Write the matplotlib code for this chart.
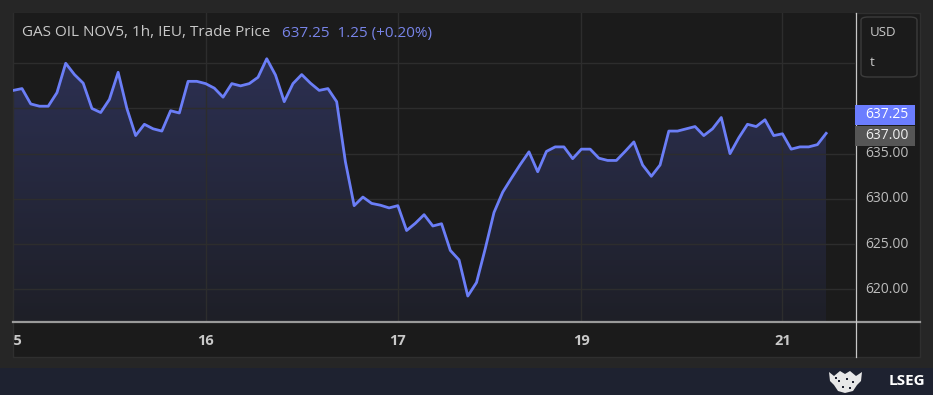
import numpy as np
import matplotlib.pyplot as plt
from matplotlib.patches import Rectangle, FancyBboxPatch, Polygon
from matplotlib.transforms import Bbox
from matplotlib.colors import LinearSegmentedColormap

# Dados (preço horário, gas oil NOV5)
prices = [642.0, 642.2, 640.5, 640.25, 640.25, 641.75, 645.0, 643.75, 642.8, 640.0,
          639.55, 641.0, 644.0, 640.0, 637.0, 638.25, 637.75, 637.5, 639.75, 639.5,
          643.0, 643.0, 642.75, 642.25, 641.25, 642.75, 642.5, 642.75, 643.45, 645.5,
          643.7, 640.75, 642.75, 643.75, 642.8, 642.0, 642.2, 640.75, 634.1, 629.25,
          630.2, 629.5, 629.3, 629.0, 629.25, 626.5, 627.3, 628.25, 627.0, 627.25,
          624.3, 623.25, 619.25, 620.75, 624.5, 628.5, 630.75, 632.3, 633.8, 635.2,
          633.0, 635.25, 635.75, 635.75, 634.45, 635.5, 635.5, 634.5, 634.25, 634.25,
          635.25, 636.3, 633.75, 632.5, 633.75, 637.5, 637.5, 637.75, 638.0, 637.0,
          637.75, 639.0, 635.0, 636.75, 638.25, 638.0, 638.75, 637.0, 637.2, 635.5,
          635.75, 635.75, 636.0, 637.25]
day_pos = [0, 22, 44, 65, 88]
day_labels = ["15", "16", "17", "19", "21"]
y_grid = [620, 625, 630, 635, 640, 645]
y_labels = [620, 625, 630, 635, 640]
last_price = 637.25
ref_price = 637.00
title = "GAS OIL NOV5, 1h, IEU, Trade Price"
quote = "637.25  1.25 (+0.20%)"

W, H = 933, 395
BG = '#262626'
PANEL = '#1b1b1b'
LINE = '#6b7ef7'
TXT = '#c9c9c9'

def fx(px):
    return px / W

def fy(py):
    return 1 - py / H

plt.rcParams['font.family'] = ['Open Sans', 'DejaVu Sans']
fig = plt.figure(figsize=(W / 100, H / 100), dpi=100, facecolor=BG)

# painel e faixa inferior (atrás dos eixos)
fig.patches.append(Rectangle((fx(13), fy(357)), fx(907), 344 / H, transform=fig.transFigure,
                             facecolor=PANEL, edgecolor='#2f2f2f', lw=1, zorder=-2))
fig.patches.append(Rectangle((0, 0), 1, 27 / H, transform=fig.transFigure,
                             facecolor='#1e2230', edgecolor='none', zorder=-2))

ax = fig.add_axes([fx(13), fy(322), fx(842), 309 / H])
ax.set_facecolor(PANEL)
x = np.arange(len(prices))
y = np.array(prices)
ymin, ymax = 616.38, 650.56
ax.set_xlim(-0.03, 96.3)
ax.set_ylim(ymin, ymax)

# preenchimento em degradê
grad = np.linspace(0, 1, 256).reshape(-1, 1)
cmap = LinearSegmentedColormap.from_list('g', ['#1e1f27', '#2c3052'])
img = ax.imshow(grad, extent=[0, x[-1], ymin, 645.5], aspect='auto',
                cmap=cmap, origin='lower', zorder=1)
poly = ax.fill_between(x, y, ymin, color='none', lw=0)
img.set_clip_path(poly.get_paths()[0], transform=ax.transData)
ax.plot(x, y, color=LINE, lw=2, zorder=3)

ax.set_yticks(y_grid)
ax.set_xticks(day_pos)
ax.grid(True, color='#2d2d2d', lw=1, zorder=0)
ax.tick_params(length=0, labelleft=False, labelbottom=False)
for s in ax.spines.values():
    s.set_visible(False)

# eixo inferior e separador
fig.add_artist(plt.Line2D([fx(13), fx(920)], [fy(322), fy(322)], color='#9a9a9a', lw=1.6))
fig.add_artist(plt.Line2D([fx(855.5), fx(855.5)], [fy(13), fy(357)], color='#c8c8c8', lw=0.9))

clip = Bbox.from_extents(13, 0, 920, H)
for p, lab in zip(day_pos, day_labels):
    xp = ax.transData.transform((p, 0))[0]
    t = fig.text(xp / W, fy(341), lab, ha='center', va='center',
                 color=TXT, fontsize=10.5, fontweight='bold')
    t.set_clip_box(clip)
    t.set_clip_on(True)

# etiquetas de preço (posição)
ref_y = H - ax.transData.transform((0, ref_price))[1]
badge_top = ref_y - 31

for v in y_labels:
    t = fig.text(fx(865), ax.transData.transform((0, v))[1] / H, f"{v:.2f}",
                 color='#bdbdbd', fontsize=10, va='center', ha='left')
    # a etiqueta azul cobre parte do rótulo de 640
    t.set_clip_box(Bbox.from_extents(856, 0, 920, H - badge_top))
    t.set_clip_on(True)

# caixa USD
fig.patches.append(FancyBboxPatch((fx(861), fy(77)), fx(56), 60 / H, transform=fig.transFigure,
                                  boxstyle='round,pad=0,rounding_size=0.008',
                                  facecolor=PANEL, edgecolor='#3c3c3c', lw=1, zorder=5))
fig.text(fx(870), fy(33), "USD", color=TXT, fontsize=9.5, va='center', zorder=6)
fig.text(fx(870), fy(63), "t", color=TXT, fontsize=9.5, va='center', zorder=6)

fig.patches.append(Rectangle((fx(855), fy(ref_y + 10)), fx(60), 20 / H, transform=fig.transFigure,
                             facecolor='#565656', edgecolor='none', zorder=5))
fig.text(fx(865), fy(ref_y), f"{ref_price:.2f}", color='#f0f0f0', fontsize=10, va='center', zorder=6)
fig.patches.append(Rectangle((fx(855), fy(ref_y - 11)), fx(60), 20 / H, transform=fig.transFigure,
                             facecolor='#6b7dff', edgecolor='none', zorder=5))
fig.text(fx(865), fy(ref_y - 21), f"{last_price:.2f}", color='#ffffff', fontsize=10, va='center', zorder=6)

# título
fig.text(fx(22), fy(33), title, color=TXT, fontsize=11, va='center')
fig.text(fx(282), fy(33), quote, color='#7884e8', fontsize=11, va='center')

# logotipo LSEG
crest = [(829, 372), (834, 376), (840, 371), (845, 374), (850, 371), (856, 376), (862, 372),
         (861, 381), (857, 385), (853, 391), (845, 393), (838, 391), (834, 385), (830, 381)]
fig.patches.append(Polygon([(fx(a), fy(b)) for a, b in crest], closed=True,
                           transform=fig.transFigure, facecolor='#e8e8e8', edgecolor='none'))
for a, b in [(838, 380), (846, 378), (852, 381), (842, 386), (849, 387), (835, 377)]:
    fig.patches.append(Rectangle((fx(a), fy(b + 2)), fx(2), 2 / H, transform=fig.transFigure,
                                 facecolor='#1e2230', edgecolor='none'))
fig.text(fx(925), fy(381), "LSEG", color='white', fontsize=11, fontweight='bold',
         va='center', ha='right')

fig.savefig('out.png', dpi=100, facecolor=BG)
